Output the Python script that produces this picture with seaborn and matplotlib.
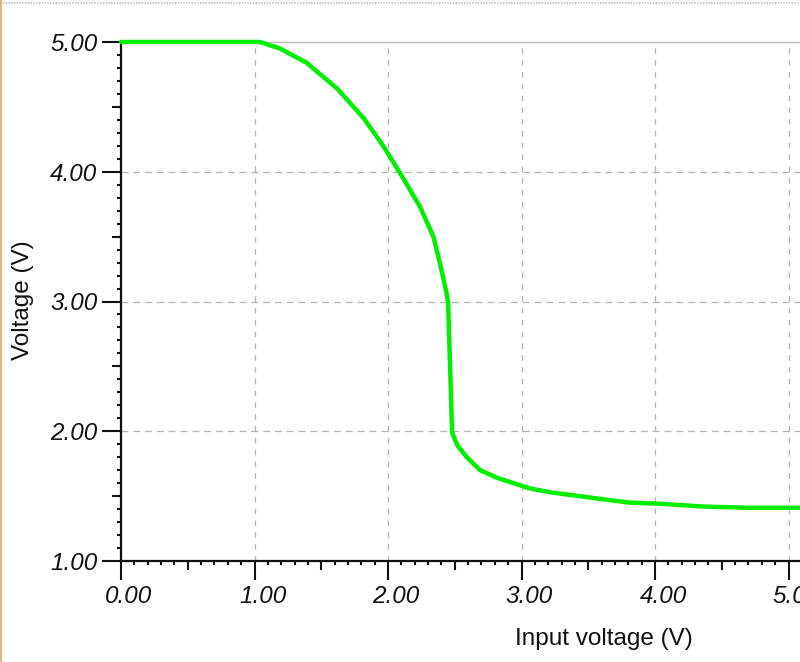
import numpy as np
import pandas as pd
import matplotlib.pyplot as plt
import matplotlib.transforms as mtransforms
from matplotlib.lines import Line2D
from matplotlib.ticker import MultipleLocator, FixedLocator
import seaborn as sns

# transfer curve
x_in = [0.00, 1.00, 1.04, 1.19, 1.39, 1.62, 1.82, 1.97, 2.09, 2.24, 2.34, 2.39,
        2.44, 2.45, 2.465, 2.48, 2.52, 2.59, 2.69, 2.82, 2.94, 3.06, 3.21, 3.36,
        3.65, 3.81, 4.06, 4.35, 4.71, 5.09, 5.20]
v_out = [5.00, 5.00, 5.00, 4.95, 4.84, 4.64, 4.41, 4.19, 3.99, 3.73, 3.50, 3.29,
         3.06, 2.99, 2.50, 1.99, 1.89, 1.80, 1.70, 1.64, 1.60, 1.56, 1.53, 1.51,
         1.47, 1.45, 1.44, 1.42, 1.41, 1.41, 1.405]
x_ticks = [0, 1, 2, 3, 4, 5, 6, 7]
y_ticks = [1, 2, 3, 4, 5]

df = pd.DataFrame({'vin': x_in, 'vout': v_out})

sns.set_style('white')
plt.rcParams['font.family'] = ['Liberation Sans', 'DejaVu Sans']
plt.rcParams['lines.scale_dashes'] = False

fig = plt.figure(figsize=(8, 6.62), dpi=100)
# axes runs past the right edge, like the screenshot
ax = fig.add_axes([121 / 800, 101 / 662, 934.5 / 800, 519 / 662])

# grid
for v in x_ticks[1:]:
    ax.axvline(v, color='#b4b4b4', lw=0.9, ls=(0, (4, 4.5)), zorder=0)
for v in y_ticks[1:-1]:
    ax.axhline(v, color='#b4b4b4', lw=0.9, ls=(0, (5, 3.5)), zorder=0)

sns.lineplot(data=df, x='vin', y='vout', color='#00ee00', lw=3.2, ax=ax,
             sort=False, estimator=None, zorder=3, clip_on=False)

ax.set_xlim(0, 7)
ax.set_ylim(1, 5)
ax.set_xticks(x_ticks)
ax.set_yticks(y_ticks)
ax.set_xticklabels([f'{v:.2f}' for v in x_ticks])
ax.set_yticklabels([f'{v:.2f}' for v in y_ticks])
ax.xaxis.set_minor_locator(MultipleLocator(0.1))
ax.yaxis.set_minor_locator(MultipleLocator(0.1))

ax.tick_params(which='major', direction='out', length=14, width=1.5,
               color='#111111', labelsize=17.5, labelcolor='#111111', pad=3,
               bottom=True, left=True)
ax.tick_params(which='minor', direction='out', length=3, width=1.5,
               color='#111111', bottom=True, left=True)
for lab in ax.get_xticklabels() + ax.get_yticklabels():
    lab.set_style('italic')
shift = mtransforms.ScaledTranslation(8 / 100, 0, fig.dpi_scale_trans)
for lab in ax.get_xticklabels():
    lab.set_transform(lab.get_transform() + shift)

# half-unit ticks are a bit longer
sec_x = ax.secondary_xaxis('bottom')
sec_x.xaxis.set_major_locator(FixedLocator(np.arange(0.5, 7, 1.0)))
sec_x.tick_params(length=6.5, width=1.5, color='#111111', labelbottom=False)
sec_x.spines['bottom'].set_visible(False)
sec_y = ax.secondary_yaxis('left')
sec_y.yaxis.set_major_locator(FixedLocator(np.arange(1.5, 5, 1.0)))
sec_y.tick_params(length=6.5, width=1.5, color='#111111', labelleft=False)
sec_y.spines['left'].set_visible(False)

for side in ['left', 'bottom']:
    ax.spines[side].set_color('#111111')
    ax.spines[side].set_linewidth(1.6)
ax.spines['right'].set_visible(False)
ax.spines['top'].set_color('#b8b8b8')
ax.spines['top'].set_linewidth(1.0)
ax.spines['top'].set_linestyle((0, (1, 1)))

ax.set_xlabel('Input voltage (V)', fontsize=17.5, color='#111111')
ax.set_ylabel('Voltage (V)', fontsize=17.5, color='#111111')
ax.xaxis.set_label_coords((604 - 121) / 934.5, -(639 - 561) / 519)
ax.xaxis.label.set_va('center')
ax.yaxis.set_label_coords((23 - 121) / 934.5, (561 - 300) / 519)
ax.yaxis.label.set_va('center')

# window frame bits of the screenshot
fig.add_artist(Line2D([0, 1], [1 - 3 / 662, 1 - 3 / 662], transform=fig.transFigure,
                      color='#c4c4c4', lw=1.5, ls=(0, (1, 1))))
fig.add_artist(Line2D([0.6 / 800, 0.6 / 800], [0, 1], transform=fig.transFigure,
                      color='#d8a868', lw=1.2))

fig.savefig('out.png', dpi=100)
